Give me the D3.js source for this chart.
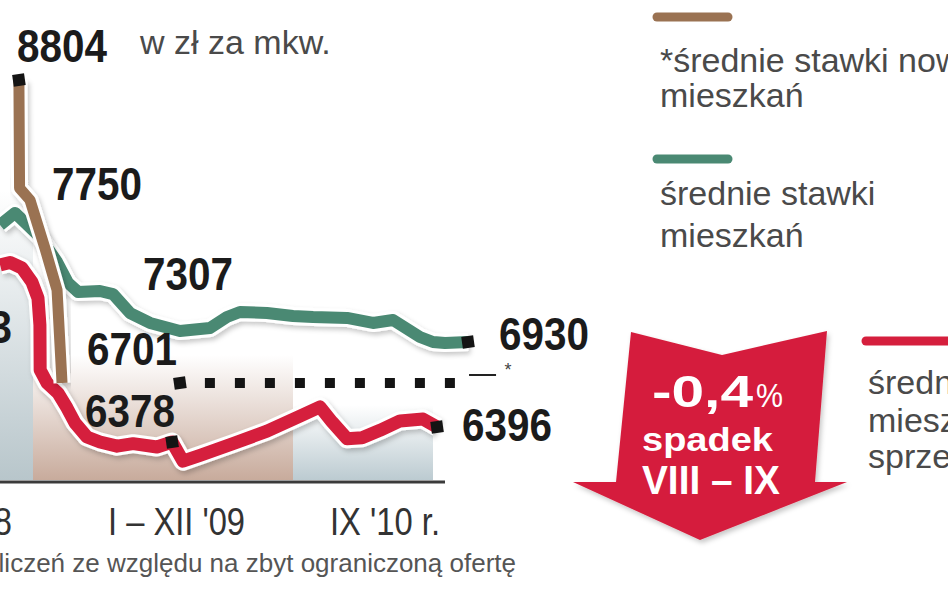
<!DOCTYPE html>
<html><head><meta charset="utf-8">
<script src="https://cdn.jsdelivr.net/npm/d3@7"></script>
<style>html,body{margin:0;padding:0;background:#fff;overflow:hidden}</style>
</head><body><svg id="c" width="948" height="593" xmlns="http://www.w3.org/2000/svg"></svg>
<script>
// ---------- DATA (x = month index: 12 = I 2009, 24 = I 2010, 33 = end of IX 2010; y = zł per m²) ----------
const newFlatsMonths = [11.35, 11.38, 11.86, 12.55, 13.11, 13.34];
const newFlatsRates  = [8804, 7855, 7750, 7560, 7394, 6701];

const noDataMonths = [18.78, 34.61];          // dotted "no calculations" stretch at last new-flats rate

const flatsMonths = [10.48, 11.17, 12.32, 13.11, 13.62, 14.08, 15.09, 15.69, 16.48, 17.40, 18.78, 20.17,
                     20.95, 21.55, 22.80, 24.00, 25.29, 27.47, 29.14, 30.43, 32.16, 33.00, 33.77, 35.25];
const flatsRates  = [7651, 7699, 7604, 7505, 7422, 7386, 7390, 7378, 7294, 7169, 7068, 7106,
                     7244, 7307, 7294, 7257, 7244, 7232, 7169, 7206, 6993, 6930, 6924, 6930];

const saleMonths = [10.48, 10.94, 11.49, 11.95, 12.23, 12.32, 12.33, 12.65, 13.15, 13.57, 13.94, 14.49, 15.09,
                    15.88, 16.62, 17.72, 18.42, 18.92, 19.71, 21.23, 22.80, 24.45, 25.74, 26.51, 27.47,
                    28.44, 29.59, 30.88, 32.36, 33.26];
const saleRates  = [7493, 7503, 7481, 7426, 7362, 7144, 6774, 6701, 6632, 6528, 6424, 6384, 6378,
                    6373, 6376, 6372, 6378, 6355, 6362, 6376, 6391, 6472, 6535, 6431, 6382,
                    6383, 6392, 6438, 6451, 6396];

const yearLabels = ["I – XII '08", "I – XII '09", "IX '10 r."];
const yearStart  = [0, 12, 24];
const yearEnd    = [12, 24, 33];

const legendNames = [["*średnie stawki nowych", "mieszkań"], ["średnie stawki", "mieszkań"], ["średnie ceny", "mieszkań na", "sprzedaż"]];
const unitLabel = "w zł za mkw.";
const footnote = "*brak obliczeń ze względu na zbyt ograniczoną ofertę";
const changeLabel = ["-0,4", "%", "spadek", "VIII – IX"];

// ---------- LAYOUT ----------
const svg = d3.select("#c");
const colors = {brown: "#9a7252", green: "#4a8973", red: "#d51f3d"};
const numFont = "'Liberation Sans Narrow','Liberation Sans',Arial,sans-serif";
const txtFont = "'Liberation Sans',Arial,sans-serif";

const x = d3.scaleLinear().domain([12, 24, 33]).range([33, 293, 433]);
const yKnots = [6378, 6396, 6701, 6930, 7307, 7750, 8804];
const y = d3.scaleLinear().domain(yKnots).range([442, 427, 383, 342, 312, 200, 80]);

svg.append("rect").attr("width", 948).attr("height", 593).attr("fill", "#fff");

const defs = svg.append("defs");
const bandColors = ["#b8c6cb", "#c8ab9c", "#bccbd1"];
const bandTops = [190, 355, 405];
bandColors.forEach((c, i) => {
  const g = defs.append("linearGradient").attr("id", "band" + i).attr("x1", 0).attr("y1", 0).attr("x2", 0).attr("y2", 1);
  g.append("stop").attr("offset", "0%").attr("stop-color", c).attr("stop-opacity", 0);
  g.append("stop").attr("offset", "55%").attr("stop-color", c).attr("stop-opacity", 0.55);
  g.append("stop").attr("offset", "100%").attr("stop-color", c).attr("stop-opacity", 1);
});
const f = defs.append("filter").attr("id", "sh").attr("x", "-20%").attr("y", "-20%").attr("width", "140%").attr("height", "140%");
f.append("feDropShadow").attr("dx", 2).attr("dy", 3).attr("stdDeviation", 2.5).attr("flood-color", "#000").attr("flood-opacity", 0.22);

// year bands
const axisY = 482;
svg.append("g").selectAll("rect").data(yearLabels).join("rect")
  .attr("x", (d, i) => x(yearStart[i]))
  .attr("width", (d, i) => x(yearEnd[i]) - x(yearStart[i]))
  .attr("y", (d, i) => bandTops[i])
  .attr("height", (d, i) => axisY - 2 - bandTops[i])
  .attr("fill", (d, i) => `url(#band${i})`);

// baseline
svg.append("line").attr("x1", 0).attr("x2", 445).attr("y1", axisY).attr("y2", axisY)
  .attr("stroke", "#3b3b3b").attr("stroke-width", 3);

// year labels
const yearAnchor = [{x: 12, a: "end"}, {x: 108, a: "start"}, {x: 330, a: "start"}];
const yearLen = [137, 137, 110];
svg.append("g").selectAll("text").data(yearLabels).join("text")
  .attr("x", (d, i) => yearAnchor[i].x).attr("y", 535)
  .attr("text-anchor", (d, i) => yearAnchor[i].a)
  .attr("textLength", (d, i) => yearLen[i]).attr("lengthAdjust", "spacingAndGlyphs")
  .attr("font-family", numFont).attr("font-size", 39).attr("fill", "#333")
  .text(d => d);

// lines
const line = d3.line().x(d => x(d[0])).y(d => y(d[1])).curve(d3.curveLinear);
const series = {
  green: d3.zip(flatsMonths, flatsRates),
  red: d3.zip(saleMonths, saleRates),
  brown: d3.zip(newFlatsMonths, newFlatsRates)
};
const widths = {green: 12, red: 13, brown: 11};
const lg = svg.append("g");
["green", "red", "brown"].forEach(k => {
  lg.append("path").attr("d", line(series[k])).attr("fill", "none").attr("stroke", "#fff")
    .attr("stroke-width", widths[k] + 6).attr("stroke-linejoin", "round").attr("filter", "url(#sh)");
  lg.append("path").attr("d", line(series[k])).attr("fill", "none").attr("stroke", colors[k])
    .attr("stroke-width", widths[k]).attr("stroke-linejoin", "round");
});

// dotted stretch (no data for new flats)
const lastNew = newFlatsRates[newFlatsRates.length - 1];
svg.append("path").attr("d", line(noDataMonths.map(m => [m, lastNew])))
  .attr("stroke", "#141414").attr("stroke-width", 10).attr("stroke-dasharray", "10,20").attr("stroke-dashoffset", 5)
  .attr("fill", "none");
const dashEnd = x(noDataMonths[1]);
svg.append("line").attr("x1", dashEnd + 11).attr("x2", dashEnd + 38).attr("y1", y(lastNew) - 8).attr("y2", y(lastNew) - 8)
  .attr("stroke", "#222").attr("stroke-width", 2);
svg.append("text").attr("x", dashEnd + 50).attr("y", y(lastNew) - 7).attr("text-anchor", "middle")
  .attr("font-family", txtFont).attr("font-size", 18).attr("fill", "#444").text("*");

// markers
const markers = [
  [newFlatsMonths[0], newFlatsRates[0]],
  [noDataMonths[0], lastNew],
  [saleMonths[16], saleRates[16]],
  [saleMonths[saleMonths.length - 1], saleRates[saleRates.length - 1]],
  [flatsMonths[flatsMonths.length - 1], flatsRates[flatsRates.length - 1]]
];
svg.append("g").selectAll("rect").data(markers).join("rect")
  .attr("x", -6).attr("y", -6).attr("width", 12).attr("height", 12).attr("fill", "#141414")
  .attr("transform", d => `translate(${x(d[0])},${y(d[1])}) rotate(-8)`);

// value labels
const labelSpecs = [
  {m: newFlatsMonths[0], v: newFlatsRates[0], dx: -2, dy: -18, a: "start"},
  {m: newFlatsMonths[2], v: newFlatsRates[2], dx: 22, dy: 0, a: "start"},
  {m: flatsMonths[13], v: flatsRates[13], dx: -7, dy: -22, a: "end"},
  {m: flatsMonths[flatsMonths.length - 1], v: flatsRates[flatsRates.length - 1], dx: 31, dy: 8, a: "start"},
  {m: noDataMonths[0], v: lastNew, dx: -3, dy: -18, a: "end"},
  {m: saleMonths[16], v: saleRates[16], dx: 3, dy: -15, a: "end"},
  {m: saleMonths[saleMonths.length - 1], v: saleRates[saleRates.length - 1], dx: 25, dy: 14, a: "start"},
  {m: saleMonths[1], v: saleRates[1], dx: 2, dy: 81, a: "end"}
];
svg.append("g").selectAll("text").data(labelSpecs).join("text")
  .attr("x", d => x(d.m) + d.dx).attr("y", d => y(d.v) + d.dy)
  .attr("text-anchor", d => d.a)
  .attr("textLength", 90).attr("lengthAdjust", "spacingAndGlyphs")
  .attr("font-family", numFont).attr("font-weight", "bold").attr("font-size", 46).attr("fill", "#1b1b1b")
  .text(d => d.v);

// unit
svg.append("text").attr("x", 140).attr("y", 54).attr("font-family", txtFont).attr("font-size", 34)
  .attr("fill", "#4a4a4a").text(unitLabel);

// legend
const legendPos = [
  {x: 657, y: 17, tx: 660, lines: [72, 107], x2: 728},
  {x: 657, y: 159, tx: 660, lines: [205, 247], x2: 728},
  {x: 866, y: 341, tx: 868, lines: [394, 432, 468], x2: 950}
];
const lc = [colors.brown, colors.green, colors.red];
legendPos.forEach((p, i) => {
  svg.append("line").attr("x1", p.x).attr("x2", p.x2).attr("y1", p.y).attr("y2", p.y)
    .attr("stroke", lc[i]).attr("stroke-width", 9).attr("stroke-linecap", "round");
  legendNames[i].forEach((t, j) => {
    svg.append("text").attr("x", p.tx).attr("y", p.lines[j]).attr("font-family", txtFont)
      .attr("font-size", 34).attr("fill", "#4a4a4a").text(t);
  });
});

// arrow
const arrow = [[631, 332], [722, 355], [827, 331], [815, 482], [847, 482], [700, 540], [573, 482], [616, 482]];
svg.append("path").attr("d", d3.line()(arrow) + "Z").attr("fill", "#d51f3d").attr("filter", "url(#sh)");
svg.append("text").attr("x", 652).attr("y", 407).attr("textLength", 101).attr("lengthAdjust", "spacingAndGlyphs")
  .attr("font-family", numFont).attr("font-weight", "bold").attr("font-size", 45).attr("fill", "#fff").text(changeLabel[0]);
svg.append("text").attr("x", 756).attr("y", 407).attr("textLength", 27).attr("lengthAdjust", "spacingAndGlyphs")
  .attr("font-family", txtFont).attr("font-size", 34).attr("fill", "#fff").text(changeLabel[1]);
svg.append("text").attr("x", 642).attr("y", 451).attr("textLength", 131).attr("lengthAdjust", "spacingAndGlyphs")
  .attr("font-family", txtFont).attr("font-weight", "bold").attr("font-size", 33).attr("fill", "#fff").text(changeLabel[2]);
svg.append("text").attr("x", 642).attr("y", 494).attr("textLength", 138).attr("lengthAdjust", "spacingAndGlyphs")
  .attr("font-family", numFont).attr("font-weight", "bold").attr("font-size", 40).attr("fill", "#fff").text(changeLabel[3]);

// footnote
svg.append("text").attr("x", 516).attr("y", 572).attr("text-anchor", "end").attr("font-family", txtFont)
  .attr("font-size", 26).attr("fill", "#555").text(footnote);
</script></body></html>
